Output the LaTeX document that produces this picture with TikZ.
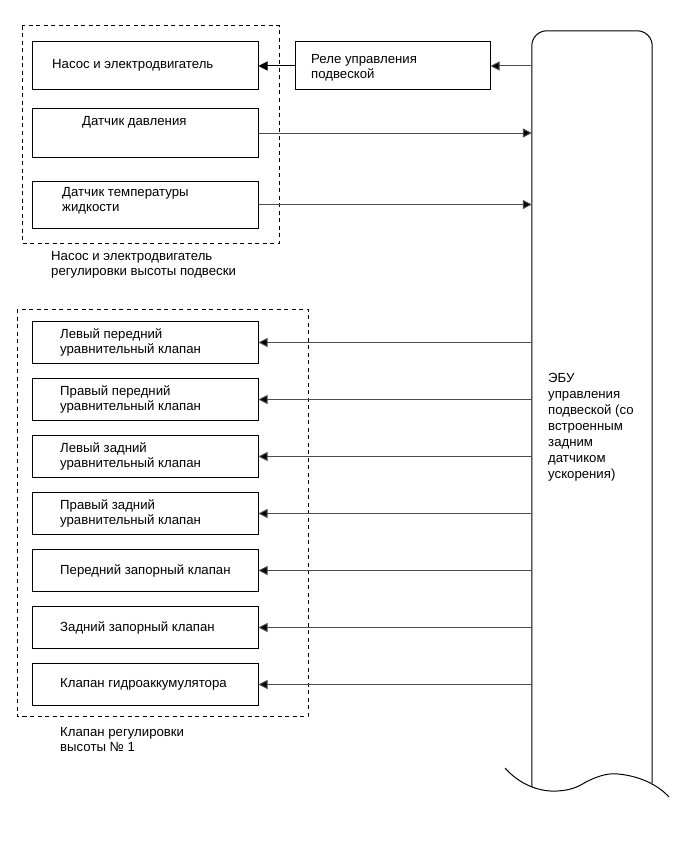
\documentclass[tikz,border=0pt]{standalone}
\usepackage{fontspec}
\setmainfont{Liberation Sans}
\usetikzlibrary{arrows.meta, positioning, calc}

\begin{document}
\begin{tikzpicture}[x=1pt, y=-1pt,
	box/.style={draw, line width=1pt, minimum width=226pt, inner sep=0pt},
	txt/.style={anchor=west, align=left, inner sep=0pt, font=\fontsize{13.2}{15}\selectfont},
	grp/.style={draw, line width=1pt, dash pattern=on 4pt off 3.5pt},
	sig/.style={draw=black!70, line width=1pt, -{Triangle[length=9pt, width=9pt, fill=black]}}]
	\useasboundingbox (0,0) rectangle (690,856);
	% pump group
	\draw[grp] (22,26) rectangle (279,243);
	\node[box, minimum height=48pt] (pump) at (145,66) {};
	\node[txt] (pumpT) at (52,65) {Насос и электродвигатель};
	\node[box, minimum height=48pt] (press) at (145,133) {};
	\node[txt] (pressT) at (82,122) {Датчик давления};
	\node[box, minimum height=47pt] (temp) at (145,204.5) {};
	\node[txt] (tempT) at (62,201) {Датчик температуры\\жидкости};
	\node[txt] (pumpG) at (51,265) {Насос и электродвигатель\\регулировки высоты подвески};
	\node[box, minimum width=195pt, minimum height=48pt] (relay) at (392.5,66) {};
	\node[txt] (relayT) at (311,67.5) {Реле управления\\подвеской};
	% ECU
	\node[minimum width=120pt, minimum height=756pt, inner sep=0pt] (ecu) at (592,409) {};
	\draw[line width=1pt, rounded corners=15pt] (ecu.south west) -- (ecu.north west)
		-- (ecu.north east) -- ($(ecu.south east)+(0,-4)$);
	\draw[line width=1pt] (505,768) .. controls (520,785) and (540,792) .. (557,791)
		.. controls (575,790) and (580,785) .. (588,781)
		.. controls (600,775) and (610,773) .. (618,774)
		.. controls (640,776) and (658,785) .. (669,797);
	\node[txt, font=\fontsize{13.2}{16}\selectfont] (ecuT) at (548,427)
		{ЭБУ\\управления\\подвеской (со\\встроенным\\задним\\датчиком\\ускорения)};
	\draw[sig, draw=black] (relay.west) -- (pump.east);
	\draw[sig] (ecu.west |- relay.east) -- (relay.east);
	\draw[sig] (press.east) -- (ecu.west |- press.east);
	\draw[sig] (temp.east) -- (ecu.west |- temp.east);
	% valve group
	\draw[grp] (17,309) rectangle (308,716);
	\foreach \n/\t [count=\i from 0] in {lf/{Левый передний\\уравнительный клапан},
		rf/{Правый передний\\уравнительный клапан},
		lr/{Левый задний\\уравнительный клапан},
		rr/{Правый задний\\уравнительный клапан},
		fc/{Передний запорный клапан},
		rc/{Задний запорный клапан},
		acc/{Клапан гидроаккумулятора}} {
		\node[box, minimum height=42pt] (\n) at (145,342.5+57*\i) {};
		\node[txt] (\n T) at (60,342.5+57*\i) {\t};
		\draw[sig] (ecu.west |- \n.east) -- (\n.east);
	}
	\node[txt] (valveG) at (60,740) {Клапан регулировки\\высоты № 1};
\end{tikzpicture}
\end{document}
